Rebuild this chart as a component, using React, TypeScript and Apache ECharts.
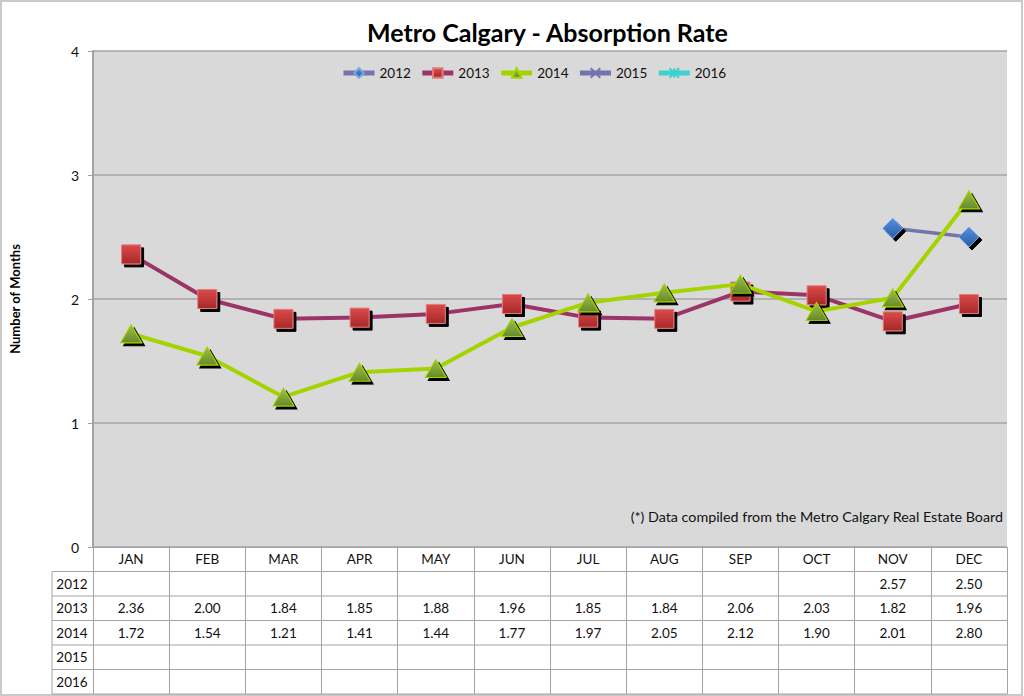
import React, { useEffect, useRef } from "react";
import * as echarts from "echarts";

const months = ["JAN", "FEB", "MAR", "APR", "MAY", "JUN", "JUL", "AUG", "SEP", "OCT", "NOV", "DEC"];
const years = ["2012", "2013", "2014", "2015", "2016"];
const v2012: (number | null)[] = [null, null, null, null, null, null, null, null, null, null, 2.57, 2.5];
const v2013: (number | null)[] = [2.36, 2.0, 1.84, 1.85, 1.88, 1.96, 1.85, 1.84, 2.06, 2.03, 1.82, 1.96];
const v2014: (number | null)[] = [1.72, 1.54, 1.21, 1.41, 1.44, 1.77, 1.97, 2.05, 2.12, 1.9, 2.01, 2.8];
const v2015: (number | null)[] = [null, null, null, null, null, null, null, null, null, null, null, null];
const v2016: (number | null)[] = [null, null, null, null, null, null, null, null, null, null, null, null];
const yTicks = [0, 1, 2, 3, 4];
const noteText = "(*) Data compiled from the Metro Calgary Real Estate Board";

const FONT = "Lato, 'Open Sans', sans-serif";

export default function App() {
  const ref = useRef<HTMLDivElement>(null);
  useEffect(() => {
    if (!ref.current) return;
    const chart = echarts.init(ref.current, null, { renderer: "svg" });

    const gridLeft = 92;
    const gridRight = 1007;
    const gridTop = 51;
    const gridBottom = 547;
    const rowH = 24.5;
    const values = [v2012, v2013, v2014, v2015, v2016];
    const lineGrey = "#a3a3a3";

    const grad = (a: string, b: string) =>
      new echarts.graphic.LinearGradient(0, 0, 0, 1, [
        { offset: 0, color: a },
        { offset: 1, color: b },
      ]);
    const shadow = { shadowColor: "#000", shadowOffsetX: 3, shadowOffsetY: 3, shadowBlur: 0 };

    const rowAxes = values.map((vals, k) => ({
      type: "category",
      gridIndex: 0,
      position: "bottom",
      offset: rowH * (k + 1),
      data: months.map((_, i) => String(i)),
      axisLine: { show: false },
      axisTick: { show: false },
      splitLine: { show: false },
      axisLabel: {
        interval: 0,
        margin: 12,
        verticalAlign: "middle",
        fontSize: 13.5,
        fontFamily: FONT,
        color: "#111",
        formatter: (_v: string, idx: number) => (vals[idx] == null ? "" : (vals[idx] as number).toFixed(2)),
      },
    }));

    const graphics: any[] = [
      {
        type: "rect",
        shape: { x: 1, y: 1, width: 1021, height: 694 },
        style: { fill: "none", stroke: "#c9c9c9", lineWidth: 2 },
        silent: true,
      },
    ];
    for (let k = 1; k <= 6; k++) {
      const y = gridBottom + rowH * k;
      graphics.push({
        type: "line",
        shape: { x1: 52, y1: y, x2: gridRight, y2: y },
        style: { stroke: lineGrey, lineWidth: 1 },
        silent: true,
      });
    }
    graphics.push({
      type: "line",
      shape: { x1: 52, y1: gridBottom + rowH, x2: 52, y2: gridBottom + rowH * 6 },
      style: { stroke: lineGrey, lineWidth: 1 },
      silent: true,
    });
    years.forEach((yr, k) => {
      graphics.push({
        type: "text",
        x: 72,
        y: gridBottom + rowH * (k + 1) + rowH / 2,
        style: { text: yr, fontSize: 13.5, fontFamily: FONT, fill: "#111", align: "center", verticalAlign: "middle" },
        silent: true,
      });
    });
    graphics.push({
      type: "text",
      x: 1003,
      y: 516,
      style: { text: noteText, fontSize: 14.3, fontFamily: FONT, fill: "#111", align: "right", verticalAlign: "middle" },
      silent: true,
    });

    const option: any = {
      animation: false,
      backgroundColor: "#ffffff",
      title: {
        text: "Metro Calgary - Absorption Rate",
        left: 362,
        top: 14,
        textStyle: { fontSize: 25, fontWeight: "bold", fontFamily: FONT, color: "#000" },
      },
      legend: {
        left: 336,
        top: 61,
        itemWidth: 31,
        itemHeight: 12,
        itemGap: 9,
        lineStyle: { width: 5 },
        textStyle: { fontSize: 13.5, fontFamily: FONT, color: "#111" },
        data: years,
      },
      grid: {
        left: gridLeft,
        right: 1024 - gridRight,
        top: gridTop,
        bottom: 696 - gridBottom,
        show: true,
        backgroundColor: "#d9d9d9",
        borderWidth: 0,
      },
      xAxis: [
        {
          type: "category",
          gridIndex: 0,
          position: "bottom",
          data: months,
          boundaryGap: true,
          axisLine: { show: true, lineStyle: { color: lineGrey, width: 1 } },
          axisTick: {
            show: true,
            interval: 0,
            alignWithLabel: false,
            inside: false,
            length: rowH * 6,
            lineStyle: { color: lineGrey, width: 1 },
          },
          axisLabel: {
            interval: 0,
            margin: 12,
            verticalAlign: "middle",
            fontSize: 13.5,
            fontFamily: FONT,
            color: "#111",
          },
          splitLine: { show: false },
        },
        ...rowAxes,
      ],
      yAxis: {
        type: "value",
        min: yTicks[0],
        max: yTicks[yTicks.length - 1],
        interval: 1,
        name: "Number of Months",
        nameLocation: "middle",
        nameGap: 72,
        nameRotate: 90,
        nameTextStyle: { fontSize: 13, fontWeight: "bold", fontFamily: FONT, color: "#000" },
        axisLine: { show: true, lineStyle: { color: lineGrey, width: 2 } },
        axisTick: { show: true, length: 5, lineStyle: { color: lineGrey } },
        axisLabel: { margin: 14, fontSize: 14, fontFamily: FONT, color: "#111" },
        splitLine: { show: true, lineStyle: { color: lineGrey, width: 1.5 } },
      },
      series: [
        {
          name: "2012",
          type: "line",
          data: v2012,
          symbol: "diamond",
          symbolSize: 20,
          lineStyle: { color: "#7373ad", width: 3.5 },
          itemStyle: { color: grad("#5590dc", "#2a5ca8"), borderColor: "#7aa6e0", borderWidth: 1, ...shadow },
          z: 3,
        },
        {
          name: "2013",
          type: "line",
          data: v2013,
          symbol: "rect",
          symbolSize: 19,
          lineStyle: { color: "#9b3567", width: 4 },
          itemStyle: { color: grad("#dc4a4a", "#a62828"), borderColor: "#e37b7b", borderWidth: 1, ...shadow },
          z: 4,
        },
        {
          name: "2014",
          type: "line",
          data: v2014,
          symbol: "triangle",
          symbolSize: [21, 18],
          lineStyle: { color: "#a4d400", width: 4 },
          itemStyle: { color: grad("#9cc24a", "#678a28"), borderColor: "#a4d400", borderWidth: 1, ...shadow },
          z: 5,
        },
        {
          name: "2015",
          type: "line",
          data: v2015,
          symbol: "path://M0,0L10,10M10,0L0,10",
          symbolSize: 10,
          lineStyle: { color: "#7373ad", width: 4 },
          itemStyle: { color: "#7373ad", borderColor: "#7373ad", borderWidth: 1.5 },
        },
        {
          name: "2016",
          type: "line",
          data: v2016,
          symbol: "path://M0,0L10,10M10,0L0,10M5,0L5,10",
          symbolSize: 10,
          lineStyle: { color: "#3fd0d0", width: 4 },
          itemStyle: { color: "#3fd0d0", borderColor: "#3fd0d0", borderWidth: 1.5 },
        },
      ],
      graphic: graphics,
    };

    chart.setOption(option);
    return () => chart.dispose();
  }, []);

  return <div ref={ref} style={{ position: "fixed", left: 0, top: 0, width: 1024, height: 696 }} />;
}
